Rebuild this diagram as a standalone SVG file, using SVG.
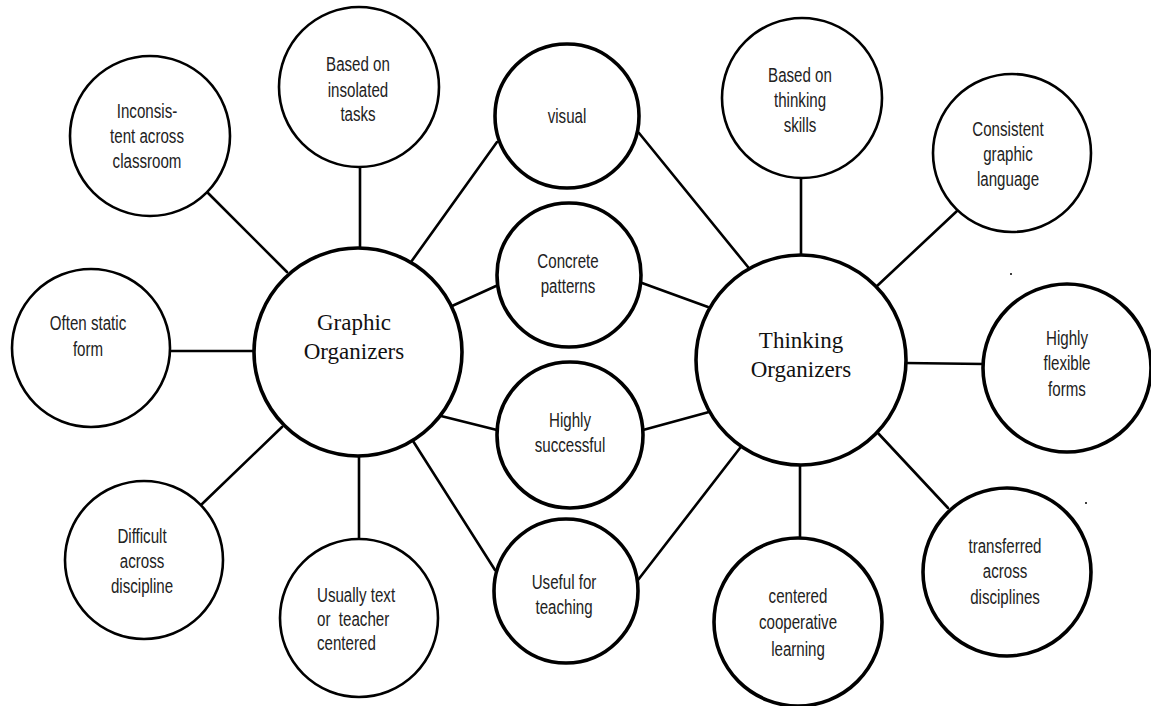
<svg xmlns="http://www.w3.org/2000/svg" width="1151" height="706" viewBox="0 0 1151 706">
<style>
.bg{fill:#fff}
.c{fill:#fff;stroke:#000;stroke-width:2.6}
.cm{fill:#fff;stroke:#000;stroke-width:3.6}
.cb{fill:#fff;stroke:#000;stroke-width:3.6}
.ln{stroke:#000;stroke-width:2.6;fill:none;stroke-linecap:round}
.t{font-family:"Liberation Sans",Arial,sans-serif;font-size:21px;fill:#222;text-anchor:middle}
.tl{font-family:"Liberation Sans",Arial,sans-serif;font-size:21px;fill:#222;text-anchor:start}
.big{font-family:"Liberation Serif","Times New Roman",serif;font-size:23px;fill:#111;text-anchor:middle}
</style>
<rect class="bg" x="0" y="0" width="1151" height="706"/>
<g id="connectors">
<line class="ln" x1="360" y1="166" x2="360" y2="250"/>
<line class="ln" x1="208" y1="193" x2="287" y2="272"/>
<line class="ln" x1="169" y1="351" x2="254" y2="351"/>
<line class="ln" x1="201" y1="505" x2="282" y2="427"/>
<line class="ln" x1="359" y1="456" x2="359" y2="538"/>
<line class="ln" x1="497" y1="142" x2="411" y2="262"/>
<line class="ln" x1="496" y1="286" x2="452" y2="306"/>
<line class="ln" x1="497" y1="430" x2="441" y2="416"/>
<line class="ln" x1="495" y1="570" x2="413" y2="441"/>
<line class="ln" x1="639" y1="133" x2="748" y2="267"/>
<line class="ln" x1="642" y1="283" x2="708" y2="307"/>
<line class="ln" x1="643" y1="430" x2="709" y2="412"/>
<line class="ln" x1="638" y1="580" x2="740" y2="448"/>
<line class="ln" x1="801" y1="177" x2="801" y2="256"/>
<line class="ln" x1="957" y1="211" x2="877" y2="286"/>
<line class="ln" x1="905" y1="363" x2="984" y2="364"/>
<line class="ln" x1="877" y1="432" x2="948" y2="508"/>
<line class="ln" x1="800" y1="464" x2="800" y2="538"/>
</g>
<g id="graphic-organizers">
<circle class="cb" cx="358" cy="352" r="104"/>
<text class="big" x="354" y="330">Graphic</text>
<text class="big" x="354" y="359">Organizers</text>
</g>
<g id="thinking-organizers">
<circle class="cb" cx="801" cy="360" r="105"/>
<text class="big" x="801" y="348">Thinking</text>
<text class="big" x="801" y="377">Organizers</text>
</g>
<g id="visual">
<circle class="cm" cx="567" cy="116" r="72"/>
<g transform="translate(567,0) scale(0.72,1)"><text class="t" x="0" y="123">visual</text></g>
</g>
<g id="concrete-patterns">
<circle class="cm" cx="569" cy="275" r="72"/>
<g transform="translate(568,0) scale(0.72,1)">
<text class="t" x="0" y="268">Concrete</text>
<text class="t" x="0" y="293">patterns</text>
</g>
</g>
<g id="highly-successful">
<circle class="cm" cx="570" cy="435" r="73"/>
<g transform="translate(570,0) scale(0.72,1)">
<text class="t" x="0" y="427">Highly</text>
<text class="t" x="0" y="452">successful</text>
</g>
</g>
<g id="useful-for-teaching">
<circle class="cm" cx="566" cy="591" r="72"/>
<g transform="translate(564,0) scale(0.72,1)">
<text class="t" x="0" y="589">Useful for</text>
<text class="t" x="0" y="614">teaching</text>
</g>
</g>
<g id="based-on-insolated-tasks">
<circle class="c" cx="359" cy="87" r="80"/>
<g transform="translate(358,0) scale(0.72,1)">
<text class="t" x="0" y="71">Based on</text>
<text class="t" x="0" y="97">insolated</text>
<text class="t" x="0" y="121">tasks</text>
</g>
</g>
<g id="inconsistent">
<circle class="c" cx="150" cy="136" r="80"/>
<g transform="translate(147,0) scale(0.72,1)">
<text class="t" x="0" y="118">Inconsis-</text>
<text class="t" x="0" y="143">tent across</text>
<text class="t" x="0" y="168">classroom</text>
</g>
</g>
<g id="often-static-form">
<circle class="c" cx="91" cy="348" r="79"/>
<g transform="translate(88,0) scale(0.72,1)">
<text class="t" x="0" y="330">Often static</text>
<text class="t" x="0" y="356">form</text>
</g>
</g>
<g id="difficult-across-discipline">
<circle class="c" cx="144" cy="560" r="79"/>
<g transform="translate(142,0) scale(0.72,1)">
<text class="t" x="0" y="543">Difficult</text>
<text class="t" x="0" y="568">across</text>
<text class="t" x="0" y="593">discipline</text>
</g>
</g>
<g id="usually-text">
<circle class="c" cx="359" cy="618" r="79"/>
<g transform="translate(317,0) scale(0.72,1)">
<text class="tl" x="0" y="602">Usually text</text>
<text class="tl" x="0" y="626" xml:space="preserve">or  teacher</text>
<text class="tl" x="0" y="650">centered</text>
</g>
</g>
<g id="based-on-thinking-skills">
<circle class="c" cx="802" cy="98" r="80"/>
<g transform="translate(800,0) scale(0.72,1)">
<text class="t" x="0" y="82">Based on</text>
<text class="t" x="0" y="107">thinking</text>
<text class="t" x="0" y="132">skills</text>
</g>
</g>
<g id="consistent-graphic-language">
<circle class="c" cx="1012" cy="153" r="79"/>
<g transform="translate(1008,0) scale(0.72,1)">
<text class="t" x="0" y="136">Consistent</text>
<text class="t" x="0" y="161">graphic</text>
<text class="t" x="0" y="186">language</text>
</g>
</g>
<g id="highly-flexible-forms">
<circle class="cm" cx="1067" cy="368" r="84"/>
<g transform="translate(1067,0) scale(0.72,1)">
<text class="t" x="0" y="345">Highly</text>
<text class="t" x="0" y="370">flexible</text>
<text class="t" x="0" y="396">forms</text>
</g>
</g>
<g id="transferred-across-disciplines">
<circle class="cm" cx="1007" cy="572" r="84"/>
<g transform="translate(1005,0) scale(0.72,1)">
<text class="t" x="0" y="553">transferred</text>
<text class="t" x="0" y="578">across</text>
<text class="t" x="0" y="604">disciplines</text>
</g>
</g>
<g id="centered-cooperative-learning">
<circle class="cm" cx="798" cy="622" r="84"/>
<g transform="translate(798,0) scale(0.72,1)">
<text class="t" x="0" y="603">centered</text>
<text class="t" x="0" y="629">cooperative</text>
<text class="t" x="0" y="656">learning</text>
</g>
</g>
<g id="specks" fill="#000">
<circle cx="1011" cy="274" r="1"/>
<circle cx="1086" cy="503" r="1"/>
</g>
</svg>
